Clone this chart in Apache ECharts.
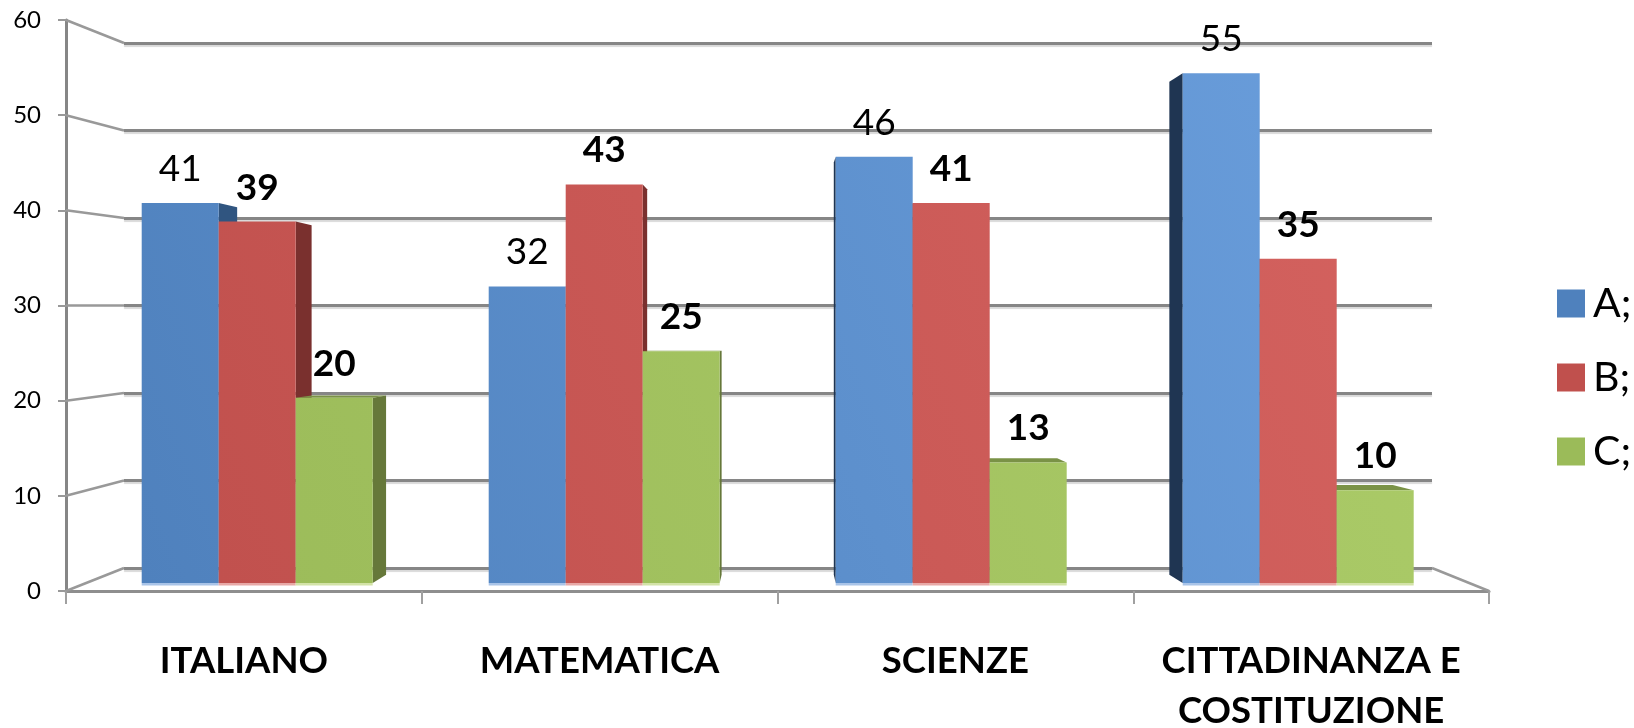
<!DOCTYPE html>
<html><head><meta charset="utf-8">
<style>html,body{margin:0;padding:0;background:#fff}#c{width:1634px;height:728px}</style>
<script src="https://cdn.jsdelivr.net/npm/echarts@6/dist/echarts.min.js"></script>
</head><body><div id="c"></div>
<script>
const categories = ['ITALIANO','MATEMATICA','SCIENZE','CITTADINANZA E\nCOSTITUZIONE'];
const seriesNames = ['A;','B;','C;'];
const valuesA = [41,32,46,55];
const valuesB = [39,43,41,35];
const valuesC = [20,25,13,10];
const yTicks = [0,10,20,30,40,50,60];

const FONT='Lato';
const values=[valuesA,valuesB,valuesC];
const base=['#4f81bd','#c0504d','#9bbb59'];
const hi=['#6a9edc','#d4625f','#abcb68'];
const sideR=['#305580','#7a302e','#66783a'];
const sideL=['#1f3552','#6e2b29','#5c6c34'];
const topC=['#3d6698','#93403d','#7a9246'];
const edge=['#a9c4e8','#e8a9a7','#d3e3a8'];
const BAR=77, VX=778, VY=331, K=0.033;
const front={left:66,top:20,w:1423,h:571}, wall={left:124,top:43,w:1308,h:525};
const bars={left:83.7,top:27,w:1388,h:556};
const back=(x,y)=>[x+(VX-x)*K,y+(VY-y)*K];
const grad=i=>new echarts.graphic.LinearGradient(141,583,1400,73,[{offset:0,color:base[i]},{offset:1,color:hi[i]}],true);
const poly=(pts,fill)=>({type:'polygon',shape:{points:pts},style:{fill}});

function sideRender(si){return function(p,api){
  const c=api.coord([api.value(0),api.value(1)]), b=api.coord([api.value(0),0]);
  const l=c[0]+(si-1.5)*BAR, r=l+BAR, t=c[1], f=b[1], ch=[];
  ch.push({type:'rect',shape:{x:l,y:f,width:BAR,height:2.5},style:{fill:edge[si]}});
  if(r<VX){const a=back(r,t),d=back(r,f);ch.push(poly([[r,t],a,d,[r,f]],sideR[si]));}
  else if(l>VX){const a=back(l,t),d=back(l,f);ch.push(poly([[l,t],a,d,[l,f]],sideL[si]));}
  if(t>VY){ch.push(poly([[l,t],back(l,t),back(r,t),[r,t]],topC[si]));}
  return {type:'group',children:ch};
};}

const wallRender=(p,api)=>{
  const v=api.value(1);
  const fy=front.top+front.h*(1-v/60), by=wall.top+wall.h*(1-v/60);
  return {type:'line',shape:{x1:front.left,y1:fy,x2:wall.left,y2:by},style:{stroke:'#999',lineWidth:2.5}};
};
const floorRender=()=>({type:'line',shape:{x1:wall.left+wall.w,y1:wall.top+wall.h,x2:front.left+front.w,y2:front.top+front.h},style:{stroke:'#999',lineWidth:2.5}});

const series=[
 {type:'custom',name:'walls',xAxisIndex:0,yAxisIndex:0,data:yTicks.map(v=>[0,v]),renderItem:wallRender,z:1,silent:true,clip:false},
 {type:'custom',name:'floor',xAxisIndex:0,yAxisIndex:0,data:[[0,0]],renderItem:floorRender,z:1,silent:true,clip:false}
];
values.forEach((vals,si)=>{
  series.push({type:'custom',name:'side'+si,xAxisIndex:2,yAxisIndex:2,data:vals.map((v,i)=>[i,v]),renderItem:sideRender(si),z:2+si*0.1,silent:true,clip:false});
});
values.forEach((vals,si)=>{
  series.push({type:'bar',name:seriesNames[si],xAxisIndex:2,yAxisIndex:2,data:vals,barWidth:BAR,barGap:'0%',z:4,
    itemStyle:{color:grad(si)},
    label:{show:true,position:'top',distance:16,fontFamily:FONT,fontSize:37,color:'#000',fontWeight:si===0?'normal':'bold',lineHeight:36}});
});

const chart=echarts.init(document.getElementById('c'));
chart.setOption({
 animation:false,backgroundColor:'#fff',
 grid:[
  {left:front.left,top:front.top,width:front.w,height:front.h,outerBoundsMode:'none'},
  {left:wall.left,top:wall.top,width:wall.w,height:wall.h,outerBoundsMode:'none'},
  {left:bars.left,top:bars.top,width:bars.w,height:bars.h,outerBoundsMode:'none'}
 ],
 xAxis:[
  {type:'category',gridIndex:0,data:categories,boundaryGap:true,
   axisLine:{show:true,lineStyle:{color:'#8e8e8e',width:3}},
   axisTick:{show:true,length:13,alignWithLabel:false,lineStyle:{color:'#a0a0a0',width:2}},
   axisLabel:{interval:0,fontFamily:FONT,fontSize:36.5,fontWeight:'bold',color:'#000',lineHeight:50,margin:45,hideOverlap:false}},
  {type:'category',gridIndex:1,data:categories,show:false},
  {type:'category',gridIndex:2,data:categories,show:false}
 ],
 yAxis:[
  {type:'value',gridIndex:0,min:0,max:60,interval:10,
   axisLine:{show:true,lineStyle:{color:'#868686',width:3}},
   axisTick:{show:true,length:8,lineStyle:{color:'#999',width:2}},
   axisLabel:{fontFamily:FONT,fontSize:24,color:'#000',margin:25},splitLine:{show:false}},
  {type:'value',gridIndex:1,min:0,max:60,interval:10,
   axisLine:{show:false},axisTick:{show:false},axisLabel:{show:false},
   splitLine:{show:true,lineStyle:{color:'#868686',width:3,shadowColor:'rgba(0,0,0,.15)',shadowOffsetY:2,shadowBlur:1}}},
  {type:'value',gridIndex:2,min:0,max:60,interval:10,show:false,splitLine:{show:false}}
 ],
 legend:{orient:'vertical',left:1552,top:278,itemWidth:28,itemHeight:28,itemGap:33,icon:'rect',
  textStyle:{fontFamily:FONT,fontSize:41,color:'#000',padding:[0,0,0,3]},
  data:seriesNames.map((n,i)=>({name:n,itemStyle:{color:base[i]}}))},
 series
});
</script></body></html>
